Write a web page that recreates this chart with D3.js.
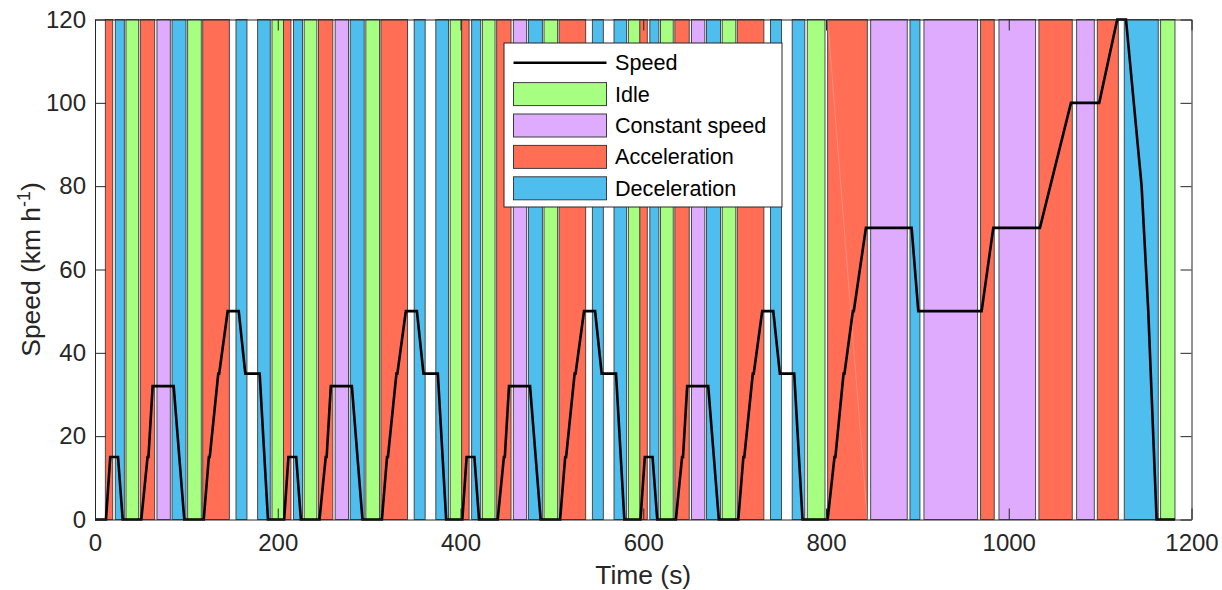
<!DOCTYPE html>
<html>
<head>
<meta charset="utf-8">
<script src="https://cdn.jsdelivr.net/npm/d3@7"></script>
<style>
  html, body { margin: 0; padding: 0; background: #fff; }
  svg { display: block; font-family: "Liberation Sans", Arial, Helvetica, sans-serif; }
</style>
</head>
<body>
<svg id="chart" width="1222" height="590"></svg>
<script>
// ---------------- data ----------------
// Driving phases (shaded bands): start time (s), end time (s), type
const phaseStart = [
  11.3, 22.2, 33.9, 49.6, 67.8, 84.3, 101.4, 117.9, 154.3, 178.0,
  193.7,
  206.3, 217.2, 228.9, 244.6, 262.8, 279.3, 296.4, 312.9, 349.3, 373.0,
  388.7,
  401.3, 412.2, 423.9, 439.6, 457.8, 474.3, 491.4, 507.9, 544.3, 568.0,
  583.7,
  596.3, 607.2, 618.9, 634.6, 652.8, 669.3, 686.4, 702.9, 739.3, 763.0,
  779.5,
  801.8, 848.9, 891.9, 907.2, 969.2, 989.3, 1033.0, 1074.3, 1096.9, 1126.4, 1166.2
];
const phaseEnd = [
  19.4, 32.1, 47.8, 65.3, 82.4, 99.6, 116.3, 147.0, 166.3, 191.8,
  206.5,
  214.4, 227.1, 242.8, 260.3, 277.4, 294.6, 311.3, 342.0, 361.3, 386.8,
  401.5,
  409.4, 422.1, 437.8, 455.3, 472.4, 489.6, 506.3, 537.0, 556.3, 581.8,
  596.5,
  604.4, 617.1, 632.8, 650.3, 667.4, 684.6, 701.3, 732.0, 751.3, 776.8,
  798.9,
  845.2, 888.9, 902.8, 965.9, 984.1, 1029.4, 1069.5, 1093.6, 1119.9, 1163.6, 1181.9
];
const phaseType = [
  "A","D","I","A","C","D","I","A","D","D",
  "I",
  "A","D","I","A","C","D","I","A","D","D",
  "I",
  "A","D","I","A","C","D","I","A","D","D",
  "I",
  "A","D","I","A","C","D","I","A","D","D",
  "I",
  "A","C","D","C","A","C","A","C","A","D","I"
];

// Speed trace: time (s) and speed (km/h)
const speedTime = [
  0, 12, 16.7, 25.2, 30.3, 50.7, 57.5, 58.5, 63.1, 86.1, 97.7, 119, 124.6, 125.6, 134.9, 135.9, 145.2, 157.3, 164.5, 180.2, 189.3,
  207, 211.7, 220.2, 225.3, 245.7, 252.5, 253.5, 258.1, 281.1, 292.7, 314, 319.6, 320.6, 329.9, 330.9, 340.2, 352.3, 359.5, 375.2, 384.3,
  402, 406.7, 415.2, 420.3, 440.7, 447.5, 448.5, 453.1, 476.1, 487.7, 509, 514.6, 515.6, 524.9, 525.9, 535.2, 547.3, 554.5, 570.2, 579.3,
  597, 601.7, 610.2, 615.3, 635.7, 642.5, 643.5, 648.1, 671.1, 682.7, 704, 709.6, 710.6, 719.9, 720.9, 730.2, 742.3, 749.5, 765.2, 774.3,
  801.8, 809.3, 810.3, 819.2, 820.2, 829.4, 830.4, 843.7, 893.7, 901, 970.3, 983.1, 1034.1, 1068.1, 1099, 1118.7, 1128.3, 1145.4, 1152.7, 1161.8, 1181.9
];
const speedValue = [
  0, 0, 15, 15, 0, 0, 15, 15, 32, 32, 0, 0, 15, 15, 35, 35, 50, 50, 35, 35, 0,
  0, 15, 15, 0, 0, 15, 15, 32, 32, 0, 0, 15, 15, 35, 35, 50, 50, 35, 35, 0,
  0, 15, 15, 0, 0, 15, 15, 32, 32, 0, 0, 15, 15, 35, 35, 50, 50, 35, 35, 0,
  0, 15, 15, 0, 0, 15, 15, 32, 32, 0, 0, 15, 15, 35, 35, 50, 50, 35, 35, 0,
  0, 15, 15, 35, 35, 50, 50, 70, 70, 50, 50, 70, 70, 100, 100, 120, 120, 80, 50, 0, 0
];

const xTicks = [0, 200, 400, 600, 800, 1000, 1200];
const yTicks = [0, 20, 40, 60, 80, 100, 120];

const legendLabels = ["Speed", "Idle", "Constant speed", "Acceleration", "Deceleration"];
const legendKeys   = ["line", "I", "C", "A", "D"];

const phaseColor = { I: "#a6ff80", C: "#deabff", A: "#ff6e55", D: "#4dbeee" };

// ---------------- chart ----------------
const svg = d3.select("#chart");
const textColor = "#262626";

const x = d3.scaleLinear().domain([0, 1200]).range([95, 1191.5]);
const y = d3.scaleLinear().domain([0, 120]).range([519.5, 19.5]);

const phases = phaseStart.map((s, i) => ({ s, e: phaseEnd[i], t: phaseType[i] }));

// bands
svg.append("g").selectAll("rect").data(phases).join("rect")
  .attr("x", d => x(d.s))
  .attr("width", d => x(d.e) - x(d.s))
  .attr("y", y(120))
  .attr("height", y(0) - y(120))
  .attr("fill", d => phaseColor[d.t])
  .attr("stroke", "#3c3c3c")
  .attr("stroke-width", 0.9);

// faint diagonal rendering artefact in the long EUDC acceleration band
const longA = phases[44];
svg.append("line")
  .attr("x1", x(longA.s)).attr("y1", y(120))
  .attr("x2", x(longA.e)).attr("y2", y(0))
  .attr("stroke", "rgba(255,255,255,0.22)")
  .attr("stroke-width", 1);

// speed line
const pts = speedTime.map((t, i) => [t, speedValue[i]]);
svg.append("path")
  .datum(pts)
  .attr("fill", "none")
  .attr("stroke", "#000")
  .attr("stroke-width", 2.6)
  .attr("stroke-linejoin", "miter")
  .attr("d", d3.line().x(d => x(d[0])).y(d => y(d[1])));

// axes
const fmt = d3.format("d");
function styleAxis(g) {
  g.selectAll("path.domain").attr("stroke", textColor).attr("stroke-width", 1);
  g.selectAll(".tick line").attr("stroke", textColor).attr("stroke-width", 1);
  g.selectAll(".tick text").attr("fill", textColor).style("font-size", "24px")
    .style("font-family", '"Liberation Sans", Arial, Helvetica, sans-serif');
}
svg.append("g").attr("transform", `translate(0,${y(0)})`)
  .call(d3.axisBottom(x).tickValues(xTicks).tickFormat(fmt).tickSize(-11).tickSizeOuter(0).tickPadding(14))
  .call(styleAxis);
svg.append("g").attr("transform", `translate(0,${y(120)})`)
  .call(d3.axisTop(x).tickValues(xTicks).tickSize(-11).tickSizeOuter(0).tickFormat(""))
  .call(styleAxis);
svg.append("g").attr("transform", `translate(${x(0)},0)`)
  .call(d3.axisLeft(y).tickValues(yTicks).tickFormat(fmt).tickSize(-11).tickSizeOuter(0).tickPadding(9))
  .call(styleAxis);
svg.append("g").attr("transform", `translate(${x(1200)},0)`)
  .call(d3.axisRight(y).tickValues(yTicks).tickSize(-11).tickSizeOuter(0).tickFormat(""))
  .call(styleAxis);

// axis labels
svg.append("text")
  .attr("x", (x(0) + x(1200)) / 2).attr("y", 584)
  .attr("text-anchor", "middle").attr("fill", textColor)
  .style("font-size", "26.4px")
  .text("Time (s)");

const yl = svg.append("text")
  .attr("transform", `translate(40,${(y(0) + y(120)) / 2}) rotate(-90)`)
  .attr("text-anchor", "middle").attr("fill", textColor)
  .style("font-size", "26.4px");
yl.append("tspan").text("Speed (km h");
yl.append("tspan").attr("dy", -10).style("font-size", "18px").text("-1");
yl.append("tspan").attr("dy", 10).text(")");

// legend
const lg = svg.append("g");
lg.append("rect").attr("x", 504).attr("y", 43).attr("width", 278).attr("height", 164)
  .attr("fill", "#fff").attr("stroke", textColor).attr("stroke-width", 1);
legendKeys.forEach((k, i) => {
  const cy = 62.7 + i * 31.4;
  if (k === "line") {
    lg.append("line").attr("x1", 513.5).attr("x2", 606.5).attr("y1", cy).attr("y2", cy)
      .attr("stroke", "#000").attr("stroke-width", 2.6);
  } else {
    lg.append("rect").attr("x", 513.5).attr("y", cy - 11.5).attr("width", 93).attr("height", 23)
      .attr("fill", phaseColor[k]).attr("stroke", "#3c3c3c").attr("stroke-width", 1);
  }
  lg.append("text").attr("x", 615).attr("y", cy).attr("dy", "0.35em")
    .attr("fill", "#000").style("font-size", "21.6px").text(legendLabels[i]);
});
</script>
</body>
</html>
